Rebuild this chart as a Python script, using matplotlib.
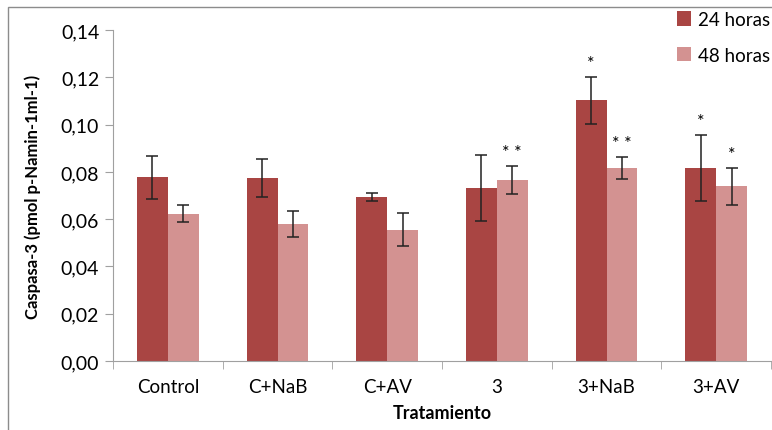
import matplotlib.pyplot as plt
import numpy as np
from matplotlib.patches import Rectangle

plt.rcParams['font.family'] = ['Lato', 'DejaVu Sans']

categories = ["Control", "C+NaB", "C+AV", "3", "3+NaB", "3+AV"]
h24 = [0.0778, 0.0774, 0.0694, 0.0732, 0.1102, 0.0816]
h24_err = [0.0091, 0.0080, 0.0017, 0.0141, 0.0100, 0.0141]
h48 = [0.0622, 0.0580, 0.0555, 0.0766, 0.0818, 0.0740]
h48_err = [0.0036, 0.0054, 0.0070, 0.0060, 0.0046, 0.0078]
marks24 = ["", "", "", "", "*", "*"]
marks48 = ["", "", "", "* *", "* *", "*"]

fig = plt.figure(figsize=(7.72, 4.31), dpi=100)
ax = fig.add_axes([0.1464, 0.160, 0.8523, 0.768])

# outer chart frame
fig.patches.append(Rectangle((8 / 772, -0.05), 1.1, 1 - 8 / 431 + 0.05,
                             transform=fig.transFigure, fill=False,
                             edgecolor='#8c8c8c', linewidth=1.0))

x = np.arange(len(categories))
w = 0.28
c24 = '#a94543'
c48 = '#d39291'
ekw = dict(ecolor='#222222', elinewidth=1.1, capsize=4, capthick=1.1)
ax.bar(x - w / 2, h24, w, color=c24, label='24 horas', yerr=h24_err, error_kw=ekw)
ax.bar(x + w / 2, h48, w, color=c48, label='48 horas', yerr=h48_err, error_kw=ekw)

for i in range(len(categories)):
    if marks24[i]:
        ax.text(x[i] - w / 2, h24[i] + h24_err[i] + 0.0025, marks24[i], ha='center', va='bottom', fontsize=13)
    if marks48[i]:
        ax.text(x[i] + w / 2, h48[i] + h48_err[i] + 0.0025, marks48[i], ha='center', va='bottom', fontsize=13)

ax.set_xlim(-0.5, len(categories) - 0.5)
ax.set_ylim(0, 0.14)
yt = np.arange(0, 0.141, 0.02)
ax.set_yticks(yt)
ax.set_yticklabels([f"{v:.2f}".replace('.', ',') for v in yt], fontsize=14)
ax.set_xticks(x)
ax.set_xticklabels(categories, fontsize=13.5)
ax.set_xticks(np.arange(-0.5, len(categories)), minor=True)
ax.tick_params(axis='x', which='major', length=0, pad=12)
ax.tick_params(axis='x', which='minor', length=6, color='#a0a0a0')
ax.tick_params(axis='y', length=6, color='#a0a0a0', pad=4)

for s in ['top', 'right']:
    ax.spines[s].set_visible(False)
for s in ['left', 'bottom']:
    ax.spines[s].set_color('#a0a0a0')

ax.set_ylabel("Caspasa-3 (pmol p-Namin-1ml-1)", fontsize=12, fontweight='bold', labelpad=14)
ax.set_xlabel("Tratamiento", fontsize=13, fontweight='bold', labelpad=7)

ax.legend(loc='upper left', bbox_to_anchor=(0.845, 1.08), frameon=False, fontsize=13.5,
          handlelength=0.75, handleheight=0.8, handletextpad=0.4, labelspacing=1.0,
          borderaxespad=0)

fig.savefig("out.png", dpi=100)
